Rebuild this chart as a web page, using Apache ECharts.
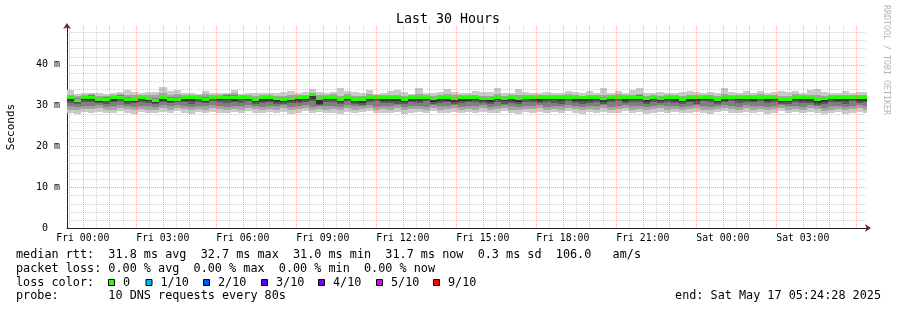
<!DOCTYPE html>
<html><head><meta charset="utf-8">
<script src="https://cdn.jsdelivr.net/npm/echarts@6/dist/echarts.min.js"></script>
<style>html,body{margin:0;padding:0;background:#fff}#c{width:897px;height:310px}</style>
</head><body><div id="c"></div>
<script>
// time in hours relative to Fri 00:00; window = last 30 h ending Sat 05:24:28
const xMin = -0.5922, xMax = 29.4078;
const stepHours = 16 / 60;
const yMin = 0, yMax = 49.5;
const xLabelValues = [0, 3, 6, 9, 12, 15, 18, 21, 24, 27];
const xLabelTexts = ['Fri 00:00','Fri 03:00','Fri 06:00','Fri 09:00','Fri 12:00','Fri 15:00','Fri 18:00','Fri 21:00','Sat 00:00','Sat 03:00'];
const yLabelValues = [0, 10, 20, 30, 40];
const yLabelTexts = ['0\u00a0\u00a0', '10 m', '20 m', '30 m', '40 m'];
const majorHours = [0,1,2,3,4,5,6,7,8,9,10,11,12,13,14,15,16,17,18,19,20,21,22,23,24,25,26,27,28,29];
const minorHours = [-0.5,0.5,1.5,2.5,3.5,4.5,5.5,6.5,7.5,8.5,9.5,10.5,11.5,12.5,13.5,14.5,15.5,16.5,17.5,18.5,19.5,20.5,21.5,22.5,23.5,24.5,25.5,26.5,27.5,28.5];
const majorMs = [10, 20, 30, 40];
const minorMs = [2,4,6,8,12,14,16,18,22,24,26,28,32,34,36,38,42,44,46,48];

// median rtt per column (ms)
const median = [
31.9,31.3,32.1,32.1,31.5,31.5,31.9,32.1,31.4,31.5,32.1,31.7,31.2,31.9,31.6,31.6,31.9,31.9,32.1,31.5,32.1,32.1,32.1,32.1,32.1,32.1,31.5,31.9,
32.0,31.7,31.5,31.7,31.9,32.1,32.7,31.7,32.1,32.1,31.5,32.1,31.5,31.4,32.1,32.1,32.1,31.9,31.9,31.5,31.9,31.9,32.1,31.7,31.9,31.9,31.7,31.9,31.9,
32.1,31.7,31.7,32.1,31.7,32.1,31.7,32.1,32.1,32.1,32.1,32.1,32.1,32.1,32.1,31.9,31.9,32.1,31.7,32.1,32.1,32.1,32.1,32.1,31.7,32.1,31.7,32.1,
31.9,31.5,31.9,31.9,32.1,32.1,31.5,31.9,32.1,32.1,32.1,32.1,32.1,31.9,32.1,31.5,31.5,32.1,32.1,31.9,31.4,31.7,32.0,32.0,31.9,32.1,31.9,31.9];
// sorted pings per column (ms), ping1 = lowest, ping10 = highest
const ping10 = [
33.8,32.9,33.0,33.1,33.0,32.9,33.2,33.4,33.8,33.4,33.0,33.3,33.3,34.6,33.6,33.8,33.2,33.2,32.8,33.6,33.1,33.0,33.2,33.8,32.9,33.0,33.2,33.0,
33.2,33.0,33.4,33.6,33.1,33.3,34.0,33.4,33.2,33.4,34.2,33.6,33.3,33.2,33.8,32.9,33.1,33.5,33.8,33.4,32.9,34.4,33.1,33.1,33.3,34.0,33.4,33.2,33.0,
33.6,33.3,33.4,34.3,33.1,33.2,34.0,33.4,33.0,33.0,33.3,33.2,33.1,33.6,33.4,33.0,33.5,33.1,34.3,33.2,33.6,33.2,33.8,34.2,33.0,33.2,33.3,33.1,
33.0,33.3,33.6,33.3,33.0,33.3,33.2,34.2,33.4,33.1,33.5,33.0,33.6,33.2,33.3,33.6,33.3,33.6,33.2,33.8,34.0,33.4,33.2,33.1,33.6,33.0,33.4,33.3];
const ping9 = [
32.6,32.4,32.6,32.8,32.3,32.4,32.7,32.9,32.6,32.5,32.6,32.6,32.5,33.0,32.6,32.9,32.6,32.5,32.6,32.8,32.6,32.6,32.8,33.0,32.6,32.6,32.4,32.5,
32.6,32.4,32.3,32.5,32.6,32.7,33.2,32.5,32.6,32.8,32.4,32.8,32.4,32.3,32.8,32.6,32.7,32.6,32.7,32.3,32.5,32.8,32.6,32.4,32.6,32.9,32.5,32.6,32.5,
32.7,32.4,32.3,32.9,32.3,32.6,32.5,32.6,32.5,32.6,32.7,32.5,32.6,32.8,32.6,32.4,32.6,32.5,32.7,32.6,32.8,32.5,32.7,32.9,32.3,32.6,32.4,32.5,
32.5,32.3,32.6,32.7,32.6,32.7,32.3,32.9,32.6,32.5,32.7,32.5,32.8,32.5,32.6,32.4,32.3,32.8,32.6,32.7,32.5,32.4,32.6,32.5,32.7,32.6,32.6,32.5];
const ping8 = [
32.2,31.9,32.4,32.5,31.9,32.0,32.3,32.5,32.0,31.9,32.4,32.1,31.8,32.4,32.0,32.2,32.3,32.2,32.4,32.1,32.4,32.4,32.5,32.6,32.4,32.4,31.9,32.2,
32.3,32.0,31.8,32.0,32.2,32.4,32.9,32.0,32.4,32.4,31.8,32.4,31.8,31.7,32.4,32.3,32.4,32.2,32.2,31.8,32.2,32.2,32.4,32.0,32.2,32.3,32.0,32.2,32.2,
32.4,32.0,32.0,32.4,32.0,32.4,32.0,32.4,32.4,32.4,32.4,32.4,32.4,32.4,32.4,32.2,32.2,32.4,32.0,32.4,32.4,32.4,32.4,32.5,32.0,32.4,32.0,32.4,
32.2,31.8,32.2,32.2,32.4,32.4,31.8,32.2,32.4,32.4,32.4,32.4,32.4,32.2,32.4,31.8,31.8,32.4,32.4,32.2,31.7,32.0,32.3,32.3,32.2,32.4,32.2,32.2];
const ping7 = [
32.1,31.6,32.3,32.3,31.7,31.8,32.1,32.3,31.7,31.7,32.3,31.9,31.5,32.2,31.8,31.9,32.1,32.1,32.3,31.8,32.3,32.3,32.3,32.4,32.3,32.3,31.7,32.1,
32.2,31.9,31.7,31.9,32.1,32.3,32.8,31.9,32.3,32.3,31.7,32.3,31.7,31.6,32.3,32.2,32.3,32.1,32.1,31.7,32.1,32.1,32.3,31.9,32.1,32.1,31.9,32.1,32.1,
32.3,31.9,31.9,32.3,31.9,32.3,31.9,32.3,32.3,32.3,32.3,32.3,32.3,32.3,32.3,32.1,32.1,32.3,31.9,32.3,32.3,32.3,32.3,32.3,31.9,32.3,31.9,32.3,
32.1,31.7,32.1,32.1,32.3,32.3,31.7,32.1,32.3,32.3,32.3,32.3,32.3,32.1,32.3,31.7,31.7,32.3,32.3,32.1,31.6,31.9,32.2,32.2,32.1,32.3,32.1,32.1];
const ping6 = [
32.0,31.4,32.2,32.2,31.6,31.6,32.0,32.2,31.5,31.6,32.2,31.8,31.3,32.0,31.7,31.7,32.0,32.0,32.2,31.6,32.2,32.2,32.2,32.2,32.2,32.2,31.6,32.0,
32.1,31.8,31.6,31.8,32.0,32.2,32.8,31.8,32.2,32.2,31.6,32.2,31.6,31.5,32.2,32.2,32.2,32.0,32.0,31.6,32.0,32.0,32.2,31.8,32.0,32.0,31.8,32.0,32.0,
32.2,31.8,31.8,32.2,31.8,32.2,31.8,32.2,32.2,32.2,32.2,32.2,32.2,32.2,32.2,32.0,32.0,32.2,31.8,32.2,32.2,32.2,32.2,32.2,31.8,32.2,31.8,32.2,
32.0,31.6,32.0,32.0,32.2,32.2,31.6,32.0,32.2,32.2,32.2,32.2,32.2,32.0,32.2,31.6,31.6,32.2,32.2,32.0,31.5,31.8,32.1,32.1,32.0,32.2,32.0,32.0];
const ping5 = [
31.1,30.8,31.3,31.4,30.9,31.0,31.0,31.5,30.9,30.8,31.4,31.0,30.6,31.2,30.9,31.1,31.2,31.0,31.5,30.8,31.5,31.3,31.4,31.2,31.5,31.3,30.9,31.1,
31.2,30.9,30.8,31.0,31.1,31.3,31.5,30.5,31.3,31.4,30.9,31.4,30.8,30.6,31.3,31.5,31.2,31.1,31.0,30.8,31.2,31.1,31.4,30.9,31.1,31.2,30.9,31.1,31.2,
31.3,31.0,30.9,31.4,31.0,31.2,30.8,31.5,31.3,31.2,31.4,31.3,31.1,31.5,31.2,31.0,31.1,31.4,30.9,31.3,31.5,31.2,31.4,31.3,30.9,31.3,31.0,31.4,
31.1,30.8,31.2,31.0,31.4,31.3,30.9,31.2,31.5,31.3,31.4,31.2,31.5,31.1,31.3,30.8,30.9,31.4,31.2,31.1,30.6,30.9,31.3,31.2,31.0,31.4,31.1,31.2];
const ping4 = [
30.7,30.4,30.9,30.8,30.6,30.5,30.8,31.0,30.5,30.6,30.9,30.7,30.3,30.8,30.6,30.9,30.8,30.5,30.9,30.6,31.0,30.8,30.7,30.9,30.6,31.0,30.5,30.7,
30.8,30.5,30.3,30.6,30.7,30.9,31.0,30.2,30.8,30.9,30.4,31.0,30.3,30.2,30.9,31.0,30.7,30.6,30.5,30.4,30.8,30.7,31.0,30.5,30.6,30.8,30.5,30.7,30.8,
30.8,30.6,30.4,30.9,30.5,30.7,30.3,30.9,30.8,30.6,30.9,30.7,30.5,31.0,30.6,30.4,30.7,30.9,30.5,30.8,31.0,30.7,30.9,30.8,30.3,30.8,30.6,30.9,
30.7,30.4,30.8,30.5,31.0,30.8,30.5,30.9,31.0,30.7,30.9,30.8,31.0,30.6,30.8,30.4,30.5,30.9,30.7,30.6,30.2,30.4,30.9,30.8,30.5,31.0,30.6,30.8];
const ping3 = [
29.8,29.6,30.0,29.9,30.1,29.7,29.8,30.2,29.9,29.6,30.0,29.8,29.6,30.1,29.8,30.2,29.9,29.6,30.0,29.8,30.1,29.9,29.7,30.0,29.8,30.2,29.9,29.7,
30.0,29.8,30.1,29.6,29.9,30.2,29.7,30.0,29.8,29.9,29.6,30.1,29.8,30.0,30.2,29.7,29.9,29.8,30.1,29.6,29.9,30.0,29.7,30.2,29.8,29.9,30.1,29.7,30.0,
29.8,30.1,29.7,29.9,30.2,29.8,29.6,30.0,29.9,30.1,29.7,30.0,29.8,30.2,29.9,29.6,30.0,29.8,30.1,29.7,29.9,30.2,29.8,30.0,29.6,29.9,30.1,29.8,
30.0,29.7,29.9,30.1,29.8,29.6,30.0,30.2,29.9,29.7,30.1,29.8,30.0,29.6,29.9,30.2,29.8,30.0,29.7,30.1,29.9,29.5,29.8,30.0,29.6,29.9,30.1,29.8];
const ping2 = [
29.0,28.8,29.2,29.1,29.3,28.9,29.0,29.4,29.1,28.9,29.2,29.0,28.9,29.3,29.0,29.5,29.1,28.8,29.2,29.0,29.3,29.1,28.9,29.2,29.0,29.4,29.1,28.9,
29.2,29.0,29.3,28.8,29.1,29.4,28.9,29.2,29.0,29.1,28.8,29.3,29.0,29.2,29.4,28.9,29.1,29.0,29.3,28.8,29.1,29.2,28.9,29.4,29.0,29.1,29.3,28.9,29.2,
29.0,29.3,28.9,29.1,29.4,29.0,28.8,29.2,29.1,29.3,28.9,29.2,29.0,29.4,29.1,28.8,29.2,29.0,29.3,28.9,29.1,29.4,29.0,29.2,28.8,29.1,29.3,29.0,
29.2,28.9,29.1,29.3,29.0,28.8,29.2,29.4,29.1,28.9,29.3,29.0,29.2,28.8,29.1,29.4,29.0,29.2,28.9,29.3,29.1,28.7,29.0,29.2,28.8,29.1,29.3,29.0];
const ping1 = [
28.3,28.0,28.4,28.2,28.5,28.1,28.3,28.6,28.2,28.0,28.4,28.3,28.1,28.5,28.2,28.6,28.3,28.0,28.4,28.2,28.5,28.3,28.1,28.4,28.2,28.6,28.3,28.1,
28.4,28.2,28.5,28.0,28.3,28.6,28.1,28.4,28.2,28.3,28.0,28.5,28.2,28.4,28.6,28.1,28.3,28.2,28.5,28.0,28.3,28.4,28.1,28.6,28.2,28.3,28.5,28.1,28.4,
28.2,28.5,28.1,28.3,28.6,28.2,28.0,28.4,28.3,28.5,28.1,28.4,28.2,28.6,28.3,28.0,28.4,28.2,28.5,28.1,28.3,28.6,28.2,28.4,28.0,28.3,28.5,28.2,
28.4,28.1,28.3,28.5,28.2,28.0,28.4,28.6,28.3,28.1,28.5,28.2,28.4,28.0,28.3,28.6,28.2,28.4,28.1,28.5,28.3,27.9,28.2,28.4,28.0,28.3,28.5,28.2];

const lossLabels = ['0', '1/10', '2/10', '3/10', '4/10', '5/10', '9/10'];
const lossColors = ['#26ff00', '#00b8ff', '#0059ff', '#5e00ff', '#7e00ff', '#dd00ff', '#ff0000'];
const smokeShades = ['#cacaca', '#a4a4a4', '#7e7e7e', '#585858', '#323232'];
const MONO = '"DejaVu Sans Mono", monospace';

const pings = [ping1, ping2, ping3, ping4, ping5, ping6, ping7, ping8, ping9, ping10];
const smokeData = median.map((m, i) => {
  const t0 = xMin + i * stepHours;
  return [t0, t0 + stepHours].concat(pings.map(p => p[i])).concat([m]);
});
const gridData = []
  .concat(minorHours.map(v => [0, v]))
  .concat(majorHours.map(v => [1, v]))
  .concat(minorMs.map(v => [2, v]))
  .concat(majorMs.map(v => [3, v]));

function renderSmoke(params, api) {
  const t0 = api.value(0), t1 = api.value(1);
  const children = [];
  for (let k = 0; k < 5; k++) {
    const lo = api.value(2 + k), hi = api.value(11 - k);
    const a = api.coord([t0, hi]), b = api.coord([t1, lo]);
    const x0 = Math.round(a[0]), x1 = Math.round(b[0]);
    const y0 = Math.round(a[1]), y1 = Math.round(b[1]);
    children.push({ type: 'rect', shape: { x: x0, y: y0, width: x1 - x0, height: Math.max(1, y1 - y0) },
      style: { fill: smokeShades[k] } });
  }
  const m = api.value(12);
  const a = api.coord([t0, m]), b = api.coord([t1, m]);
  const x0 = Math.round(a[0]), x1 = Math.round(b[0]);
  children.push({ type: 'rect', shape: { x: x0, y: Math.round(a[1] - 1.5), width: x1 - x0, height: 3 },
    style: { fill: lossColors[0] } });
  return { type: 'group', children };
}
function renderGrid(params, api) {
  const kind = api.value(0), v = api.value(1);
  const cs = params.coordSys;
  let shape;
  if (kind < 2) {
    const x = Math.round(api.coord([v, 0])[0]) + 0.5;
    shape = { x1: x, y1: cs.y, x2: x, y2: cs.y + cs.height };
  } else {
    const y = Math.round(api.coord([xMin, v])[1]) + 0.5;
    shape = { x1: cs.x, y1: y, x2: cs.x + cs.width, y2: y };
  }
  return { type: 'line', shape,
    style: { stroke: (kind % 2) ? 'rgba(232,100,100,0.55)' : 'rgba(150,150,150,0.45)', lineWidth: 1, lineDash: [1, 1] } };
}

const legendY = [255, 268.5, 282.5, 296];
const graphics = [
  { type: 'text', x: 448, y: 20, style: { text: 'Last 30 Hours', font: '13.3px ' + MONO, fill: '#000', align: 'center', verticalAlign: 'middle' } },
  { type: 'text', x: 11, y: 127, rotation: Math.PI / 2, style: { text: 'Seconds', font: '11px ' + MONO, fill: '#000', align: 'center', verticalAlign: 'middle' } },
  { type: 'text', x: 886, y: 60, rotation: -Math.PI / 2, style: { text: 'RRDTOOL / TOBI OETIKER', font: '8.3px ' + MONO, fill: '#b4b4b4', align: 'center', verticalAlign: 'middle' } },
  { type: 'text', x: 16, y: legendY[0], style: { text: 'median rtt:  31.8 ms avg  32.7 ms max  31.0 ms min  31.7 ms now  0.3 ms sd  106.0   am/s', font: '11.8px ' + MONO, fill: '#000', verticalAlign: 'middle' } },
  { type: 'text', x: 16, y: legendY[1], style: { text: 'packet loss: 0.00 % avg  0.00 % max  0.00 % min  0.00 % now', font: '11.8px ' + MONO, fill: '#000', verticalAlign: 'middle' } },
  { type: 'text', x: 16, y: legendY[2], style: { text: 'loss color:', font: '11.8px ' + MONO, fill: '#000', verticalAlign: 'middle' } },
  { type: 'text', x: 16, y: legendY[3], style: { text: 'probe:       10 DNS requests every 80s', font: '11.8px ' + MONO, fill: '#000', verticalAlign: 'middle' } },
  { type: 'text', x: 881, y: legendY[3], style: { text: 'end: Sat May 17 05:24:28 2025', font: '11.8px ' + MONO, fill: '#000', align: 'right', verticalAlign: 'middle' } }
];
const boxX = [108, 145.5, 203, 261, 318, 376, 433];
lossLabels.forEach((lab, i) => {
  graphics.push({ type: 'rect', shape: { x: boxX[i] + 0.5, y: 279.5, width: 6, height: 6 },
    style: { fill: lossColors[i], stroke: '#000', lineWidth: 1 } });
  graphics.push({ type: 'text', x: boxX[i] + 15, y: legendY[2],
    style: { text: lab, font: '11.8px ' + MONO, fill: '#000', verticalAlign: 'middle' } });
});

const chart = echarts.init(document.getElementById('c'), null, { renderer: 'canvas' });
chart.setOption({
  animation: false,
  backgroundColor: '#fff',
  grid: { left: 67, right: 30, top: 26, bottom: 82, containLabel: false },
  xAxis: [
    { type: 'value', min: xMin, max: xMax,
      axisLine: { show: true, onZero: false, lineStyle: { color: '#1f1f1f', width: 1 } },
      axisTick: { show: false }, splitLine: { show: false },
      axisLabel: { customValues: xLabelValues, margin: 5, color: '#000', fontFamily: 'DejaVu Sans Mono', fontSize: 9.8,
        formatter: v => xLabelTexts[xLabelValues.indexOf(v)] || '' } },
    { type: 'value', min: xMin, max: xMax, position: 'bottom',
      axisLine: { show: true, onZero: false, symbol: ['none', 'arrow'], symbolSize: [6, 6], symbolOffset: [0, 4], lineStyle: { color: '#7f1f1f', width: 0 } },
      axisTick: { show: false }, axisLabel: { show: false }, splitLine: { show: false } }
  ],
  yAxis: [
    { type: 'value', min: yMin, max: yMax,
      axisLine: { show: true, onZero: false, lineStyle: { color: '#1f1f1f', width: 1 } },
      axisTick: { show: false }, splitLine: { show: false },
      axisLabel: { customValues: yLabelValues, margin: 7, color: '#000', fontFamily: 'DejaVu Sans Mono', fontSize: 10,
        formatter: v => yLabelTexts[yLabelValues.indexOf(v)] || '' } },
    { type: 'value', min: yMin, max: yMax, position: 'left',
      axisLine: { show: true, onZero: false, symbol: ['none', 'arrow'], symbolSize: [6, 6], symbolOffset: [0, 3], lineStyle: { color: '#7f1f1f', width: 0 } },
      axisTick: { show: false }, axisLabel: { show: false }, splitLine: { show: false } }
  ],
  series: [
    { type: 'custom', name: 'smoke', renderItem: renderSmoke, data: smokeData, clip: true, z: 2, silent: true,
      encode: { x: [0, 1], y: [2, 3, 4, 5, 6, 7, 8, 9, 10, 11, 12] } },
    { type: 'custom', name: 'grid', renderItem: renderGrid, data: gridData, z: 3, silent: true, clip: true,
      encode: { x: 1, y: 1 } }
  ],
  graphic: graphics
});
</script>
</body></html>
